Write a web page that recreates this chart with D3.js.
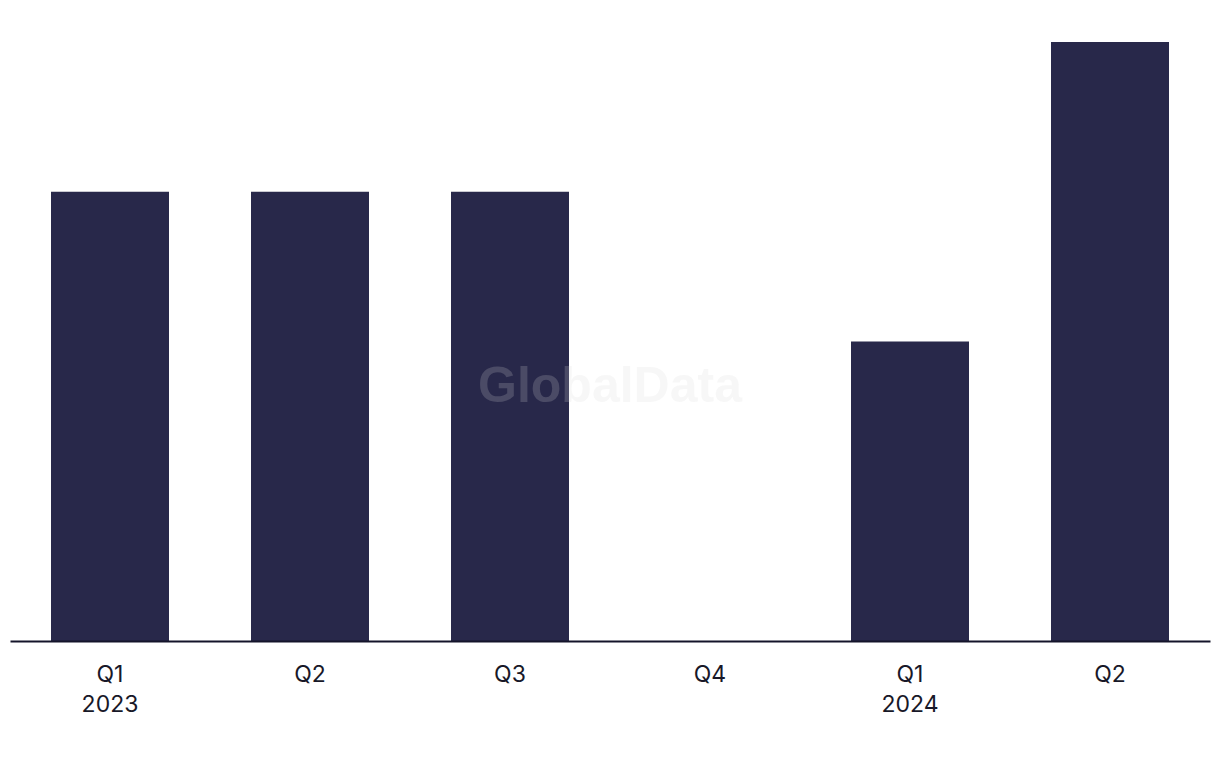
<!DOCTYPE html>
<html>
<head>
<meta charset="utf-8">
<script src="https://cdn.jsdelivr.net/npm/d3@7"></script>
<style>
html,body{margin:0;padding:0;background:#fff;}
svg{display:block;}
</style>
</head>
<body>
<svg id="chart" width="1220" height="768"></svg>
<script>
const categories = ["Q1 2023", "Q2 2023", "Q3 2023", "Q4 2023", "Q1 2024", "Q2 2024"];
const quarterLabels = ["Q1", "Q2", "Q3", "Q4", "Q1", "Q2"];
const yearLabels = ["2023", "", "", "", "2024", ""];
const values = [3, 3, 3, 0, 2, 4];

const svg = d3.select("#chart");
const x = d3.scaleBand().domain(categories).range([10, 1210]).paddingInner(0.41).paddingOuter(0.205);
const y = d3.scaleLinear().domain([0, 4]).range([641, 42]);

svg.append("g").selectAll("rect").data(values).join("rect")
  .attr("x", (d, i) => x(categories[i]))
  .attr("y", d => y(d))
  .attr("width", x.bandwidth())
  .attr("height", d => y(0) - y(d))
  .attr("fill", "#28284a");

const axis = svg.append("g").attr("transform", `translate(0,${y(0)})`)
  .call(d3.axisBottom(x).tickSize(0).tickFormat(""));
axis.select(".domain").attr("stroke", "#14142a").attr("stroke-width", 2);

const lbl = axis.selectAll(".tick").append("text")
  .attr("fill", "#181828")
  .attr("font-family", "Inter, 'Liberation Sans', sans-serif")
  .attr("font-size", 23)
  .attr("text-anchor", "middle");
lbl.append("tspan").attr("x", 0).attr("y", 41).text((d, i) => quarterLabels[i]);
lbl.append("tspan").attr("x", 0).attr("y", 71).text((d, i) => yearLabels[i]);

svg.append("text")
  .attr("x", 610).attr("y", 402)
  .attr("text-anchor", "middle")
  .attr("font-family", "'Liberation Sans', Arial, sans-serif")
  .attr("font-weight", "bold")
  .attr("font-size", 50)
  .attr("fill", "rgb(214,214,214)")
  .attr("fill-opacity", 0.2)
  .text("GlobalData");
</script>
</body>
</html>
